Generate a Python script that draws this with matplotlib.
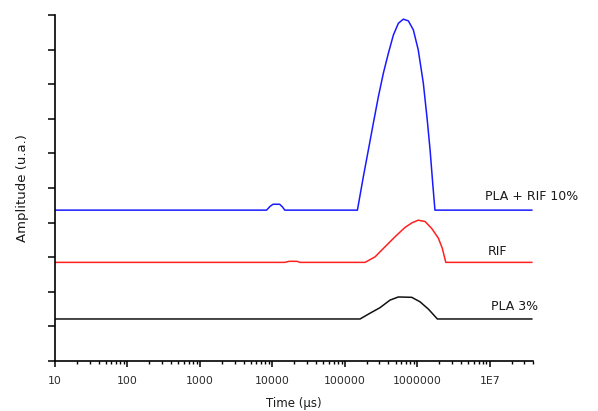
import matplotlib
matplotlib.use("Agg")
import matplotlib.pyplot as plt
from matplotlib.ticker import LogLocator, FixedLocator, NullFormatter

# ---- data (time in µs, amplitude in arbitrary units) ----
pla_rif_time = [10, 8.3e3, 9.3e3, 1.02e4, 1.26e4, 1.38e4, 1.48e4, 1.49e5, 1.80e5, 2.11e5,
                2.47e5, 2.90e5, 3.40e5, 3.98e5, 4.67e5, 5.47e5, 6.41e5, 7.52e5, 8.81e5,
                1.03e6, 1.21e6, 1.37e6, 1.50e6, 1.63e6, 1.75e6, 3.8e7]
pla_rif_amp = [4.36, 4.36, 4.47, 4.53, 4.53, 4.45, 4.36, 4.36, 5.33, 6.10,
               6.87, 7.64, 8.32, 8.89, 9.42, 9.76, 9.88, 9.83, 9.57,
               8.99, 8.03, 6.97, 6.10, 5.14, 4.36, 4.36]

rif_time = [10, 1.48e4, 1.7e4, 2.2e4, 2.4e4, 1.90e5, 2.61e5, 3.58e5, 4.92e5, 6.76e5,
            8.38e5, 1.03e6, 1.28e6, 1.58e6, 1.95e6, 2.21e6, 2.47e6, 3.8e7]
rif_amp = [2.85, 2.85, 2.88, 2.88, 2.85, 2.85, 3.01, 3.30, 3.59, 3.86,
           3.99, 4.07, 4.03, 3.83, 3.55, 3.26, 2.85, 2.85]

pla_time = [10, 1.62e5, 2.22e5, 3.05e5, 4.20e5, 5.47e5, 8.38e5, 1.09e6, 1.42e6, 1.89e6, 3.8e7]
pla_amp = [1.214, 1.214, 1.38, 1.54, 1.76, 1.85, 1.84, 1.71, 1.50, 1.214, 1.214]

series_labels = ["PLA + RIF 10%", "RIF", "PLA 3%"]
x_tick_values = [10, 100, 1000, 10000, 100000, 1000000, 10000000]
x_tick_labels = ["10", "100", "1000", "10000", "100000", "1000000", "1E7"]

plt.rcParams['font.family'] = ['DejaVu Sans']

fig = plt.figure(figsize=(5.98, 4.11), dpi=100)
ax = fig.add_axes([0.092, 0.1217, 0.800, 0.8418])

ax.plot(pla_rif_time, pla_rif_amp, color='#1a1aff', lw=1.1, solid_joinstyle='round')
ax.plot(rif_time, rif_amp, color='#ff2020', lw=1.1, solid_joinstyle='round')
ax.plot(pla_time, pla_amp, color='#111111', lw=1.1, solid_joinstyle='round')

ax.set_xscale('log')
ax.set_xlim(10, 4e7)
ax.set_ylim(0, 10)

ax.xaxis.set_major_locator(FixedLocator(x_tick_values))
ax.set_xticklabels(x_tick_labels)
ax.xaxis.set_minor_locator(LogLocator(base=10, subs=range(2, 10), numticks=50))
ax.xaxis.set_minor_formatter(NullFormatter())
ax.set_yticks(range(0, 11))
ax.set_yticklabels([])

for s in ['top', 'right']:
    ax.spines[s].set_visible(False)
for s in ['left', 'bottom']:
    ax.spines[s].set_linewidth(1.2)

ax.tick_params(axis='x', which='major', direction='out', length=4, width=1.1,
               labelsize=7.8, pad=6.5, colors='#000000', labelcolor='#2b2b2b')
ax.tick_params(axis='x', which='minor', direction='out', length=2.2, width=1.0)
ax.tick_params(axis='y', which='major', direction='out', length=5, width=1.1)

ax.set_xlabel('Time (µs)', fontsize=8.5, labelpad=8, color='#1a1a1a')
ax.set_ylabel('Amplitude (u.a.)', fontsize=9.5, labelpad=10, color='#1a1a1a')

label_x = [8.6e6, 9.5e6, 1.03e7]
label_y = [4.75, 3.16, 1.57]
for lx, ly, txt in zip(label_x, label_y, series_labels):
    ax.text(lx, ly, txt, fontsize=9.0, va='center', ha='left', color='#1a1a1a')

fig.savefig('out.png', dpi=100)
